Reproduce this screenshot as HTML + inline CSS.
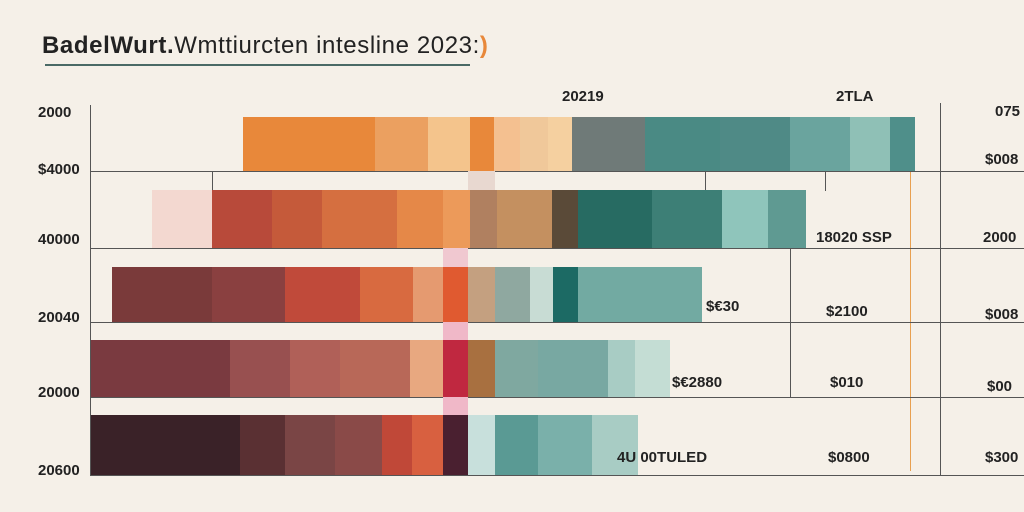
<!DOCTYPE html>
<html><head><meta charset="utf-8"><style>
html,body{margin:0;padding:0;width:1024px;height:512px;overflow:hidden;background:#f5f0e8;font-family:"Liberation Sans",sans-serif;}
.a{position:absolute}
.t{position:absolute;font-size:15px;color:#222;white-space:nowrap;font-weight:600}
.h{position:absolute;height:1px;background:#555}
.v{position:absolute;width:1px;background:#555}
</style></head><body>
<div class="t" style="left:42px;top:32px;font-size:24px;font-weight:bold;letter-spacing:0.6px">BadelWurt.<span style="font-weight:normal">Wmttiurcten intesline 2023:</span><span style="color:#e8883a">)</span></div>
<div class="a" style="left:45px;top:64px;width:425px;height:2px;background:#4a6a66"></div>
<div class="v" style="left:90px;top:105px;height:370px"></div>
<div class="v" style="left:940px;top:103px;height:372px"></div>
<div class="v" style="left:212px;top:171px;height:20px"></div>
<div class="v" style="left:705px;top:171px;height:20px"></div>
<div class="v" style="left:825px;top:171px;height:20px"></div>
<div class="v" style="left:790px;top:248px;height:150px"></div>
<div class="v" style="left:910px;top:171px;height:300px;background:#e8a050"></div>
<div class="h" style="left:90px;top:171px;width:934px"></div>
<div class="h" style="left:90px;top:248px;width:934px"></div>
<div class="h" style="left:90px;top:322px;width:934px"></div>
<div class="h" style="left:90px;top:397px;width:934px"></div>
<div class="h" style="left:90px;top:475px;width:934px"></div>
<svg class="a" style="left:0;top:0" width="1024" height="512">
<rect x="243" y="117" width="132" height="54" fill="#e8883a"/><rect x="375" y="117" width="53" height="54" fill="#eba060"/><rect x="428" y="117" width="42" height="54" fill="#f4c48c"/><rect x="470" y="117" width="24" height="54" fill="#e8883a"/><rect x="494" y="117" width="26" height="54" fill="#f4c090"/><rect x="520" y="117" width="28" height="54" fill="#f0c89a"/><rect x="548" y="117" width="24" height="54" fill="#f5d0a0"/><rect x="572" y="117" width="73" height="54" fill="#6f7a78"/><rect x="645" y="117" width="75" height="54" fill="#4a8a84"/><rect x="720" y="117" width="70" height="54" fill="#4f8a86"/><rect x="790" y="117" width="60" height="54" fill="#6aa49e"/><rect x="850" y="117" width="40" height="54" fill="#8fc0b6"/><rect x="890" y="117" width="25" height="54" fill="#4f8f8a"/>
<rect x="152" y="190" width="60" height="58" fill="#f3d8d0"/><rect x="212" y="190" width="60" height="58" fill="#b84a3a"/><rect x="272" y="190" width="50" height="58" fill="#c55a3a"/><rect x="322" y="190" width="75" height="58" fill="#d56f40"/><rect x="397" y="190" width="46" height="58" fill="#e58848"/><rect x="443" y="190" width="27" height="58" fill="#ec9a5a"/><rect x="470" y="190" width="27" height="58" fill="#b08060"/><rect x="497" y="190" width="55" height="58" fill="#c49060"/><rect x="552" y="190" width="26" height="58" fill="#5a4a38"/><rect x="578" y="190" width="74" height="58" fill="#276b62"/><rect x="652" y="190" width="70" height="58" fill="#3d7f76"/><rect x="722" y="190" width="46" height="58" fill="#8fc5bb"/><rect x="768" y="190" width="38" height="58" fill="#5f9a92"/>
<rect x="112" y="267" width="100" height="55" fill="#7a3a3a"/><rect x="212" y="267" width="73" height="55" fill="#8a4040"/><rect x="285" y="267" width="75" height="55" fill="#c04a3a"/><rect x="360" y="267" width="53" height="55" fill="#d86a40"/><rect x="413" y="267" width="30" height="55" fill="#e59a70"/><rect x="443" y="267" width="25" height="55" fill="#e05a30"/><rect x="468" y="267" width="27" height="55" fill="#c4a080"/><rect x="495" y="267" width="35" height="55" fill="#8fa8a0"/><rect x="530" y="267" width="23" height="55" fill="#c8dcd4"/><rect x="553" y="267" width="25" height="55" fill="#1c6a64"/><rect x="578" y="267" width="124" height="55" fill="#72aaa2"/>
<rect x="91" y="340" width="139" height="57" fill="#7a3a40"/><rect x="230" y="340" width="60" height="57" fill="#985050"/><rect x="290" y="340" width="50" height="57" fill="#b06058"/><rect x="340" y="340" width="70" height="57" fill="#b86858"/><rect x="410" y="340" width="33" height="57" fill="#e8a880"/><rect x="443" y="340" width="25" height="57" fill="#c02840"/><rect x="468" y="340" width="27" height="57" fill="#a87040"/><rect x="495" y="340" width="43" height="57" fill="#7fa8a0"/><rect x="538" y="340" width="70" height="57" fill="#78a8a2"/><rect x="608" y="340" width="27" height="57" fill="#a8ccc4"/><rect x="635" y="340" width="35" height="57" fill="#c4ddd4"/>
<rect x="91" y="415" width="149" height="60" fill="#3a2228"/><rect x="240" y="415" width="45" height="60" fill="#5a3033"/><rect x="285" y="415" width="50" height="60" fill="#7a4545"/><rect x="335" y="415" width="47" height="60" fill="#8a4a48"/><rect x="382" y="415" width="30" height="60" fill="#c04838"/><rect x="412" y="415" width="31" height="60" fill="#d86040"/><rect x="443" y="415" width="25" height="60" fill="#4a2030"/><rect x="468" y="415" width="27" height="60" fill="#c8e0dc"/><rect x="495" y="415" width="43" height="60" fill="#5a9a94"/><rect x="538" y="415" width="54" height="60" fill="#7ab0aa"/><rect x="592" y="415" width="46" height="60" fill="#a8ccc4"/>
<rect x="468" y="171" width="27" height="19" fill="#e8d8d0"/><rect x="443" y="248" width="25" height="19" fill="#f0c8d0"/><rect x="443" y="322" width="25" height="18" fill="#f0b8c8"/><rect x="443" y="397" width="25" height="18" fill="#f0b8c8"/>
</svg>
<div class="t" style="left:38px;top:104px">2000</div>
<div class="t" style="left:38px;top:161px">$4000</div>
<div class="t" style="left:38px;top:231px">40000</div>
<div class="t" style="left:38px;top:309px">20040</div>
<div class="t" style="left:38px;top:384px">20000</div>
<div class="t" style="left:38px;top:462px">20600</div>
<div class="t" style="left:562px;top:88px">20219</div>
<div class="t" style="left:836px;top:88px">2TLA</div>
<div class="t" style="left:995px;top:103px">075</div>
<div class="t" style="left:985px;top:151px">$008</div>
<div class="t" style="left:816px;top:229px">18020 SSP</div>
<div class="t" style="left:983px;top:229px">2000</div>
<div class="t" style="left:706px;top:298px">$€30</div>
<div class="t" style="left:826px;top:303px">$2100</div>
<div class="t" style="left:985px;top:306px">$008</div>
<div class="t" style="left:672px;top:374px">$€2880</div>
<div class="t" style="left:830px;top:374px">$010</div>
<div class="t" style="left:987px;top:378px">$00</div>
<div class="t" style="left:617px;top:449px">4U 00TULED</div>
<div class="t" style="left:828px;top:449px">$0800</div>
<div class="t" style="left:985px;top:449px">$300</div>
</body></html>
